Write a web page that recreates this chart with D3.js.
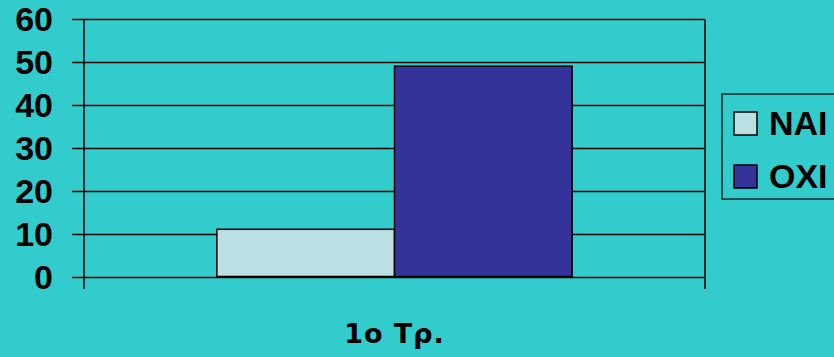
<!DOCTYPE html>
<html>
<head>
<meta charset="utf-8">
<script src="https://cdn.jsdelivr.net/npm/d3@7"></script>
<style>
  body { margin: 0; background: #33CCCC; }
  svg { display: block; }
</style>
</head>
<body>
<svg id="chart" width="834" height="357"></svg>
<script>
// data
var categories = ["1o Τρ."];
var series = ["NAI", "OXI"];
var values = [[11, 49]];
var colors = ["#BBE0E3", "#333399"];
var yTicks = [0, 10, 20, 30, 40, 50, 60];

var svg = d3.select("#chart");
var plot = {left: 84, right: 705, top: 19, bottom: 276.5};

var y = d3.scaleLinear()
    .domain([0, 60])
    .range([plot.bottom, plot.top]);

var x0 = d3.scaleBand()
    .domain(categories)
    .range([plot.left, plot.right])
    .paddingInner(0)
    .paddingOuter(0.374);

var x1 = d3.scaleBand()
    .domain(series)
    .range([0, x0.bandwidth()]);

// gridlines
svg.append("g")
  .selectAll("line")
  .data(yTicks)
  .enter().append("line")
  .attr("x1", plot.left - 12)
  .attr("x2", plot.right)
  .attr("y1", function(d) { return Math.round(y(d)) + 0.5; })
  .attr("y2", function(d) { return Math.round(y(d)) + 0.5; })
  .attr("stroke", "#000")
  .attr("stroke-width", 1.5);

// y tick labels
svg.append("g")
  .selectAll("text")
  .data(yTicks)
  .enter().append("text")
  .attr("x", 53)
  .attr("y", function(d) { return y(d); })
  .attr("dy", "0.36em")
  .attr("text-anchor", "end")
  .style("font-family", "'Liberation Sans', Arial, sans-serif")
  .style("font-weight", "bold")
  .style("font-size", "34px")
  .text(function(d) { return d; });

// bars
var groups = svg.append("g")
  .selectAll("g")
  .data(categories)
  .enter().append("g")
  .attr("transform", function(d) { return "translate(" + x0(d) + ",0)"; });

groups.selectAll("rect")
  .data(function(d, i) { return values[i].map(function(v, j) { return {s: series[j], v: v, c: colors[j]}; }); })
  .enter().append("rect")
  .attr("x", function(d) { return x1(d.s); })
  .attr("y", function(d) { return y(d.v); })
  .attr("width", x1.bandwidth())
  .attr("height", function(d) { return plot.bottom - y(d.v); })
  .attr("fill", function(d) { return d.c; })
  .attr("stroke", "#000")
  .attr("stroke-width", 1.5);

// axes frame
svg.append("line")
  .attr("x1", plot.left).attr("x2", plot.left)
  .attr("y1", plot.top).attr("y2", 289)
  .attr("stroke", "#000").attr("stroke-width", 1.5);
svg.append("line")
  .attr("x1", plot.right).attr("x2", plot.right)
  .attr("y1", plot.top).attr("y2", 289)
  .attr("stroke", "#0a2a2a").attr("stroke-width", 2);

// category label
svg.append("g")
  .selectAll("text")
  .data(categories)
  .enter().append("text")
  .attr("x", function(d) { return (plot.left + plot.right) / 2; })
  .attr("y", 343)
  .attr("text-anchor", "middle")
  .style("font-family", "'DejaVu Sans', Verdana, sans-serif")
  .style("font-weight", "bold")
  .style("font-size", "27px")
  .style("letter-spacing", "1px")
  .text(function(d) { return d; });

// legend
var legend = svg.append("g");
legend.append("rect")
  .attr("x", 722).attr("y", 94)
  .attr("width", 130).attr("height", 105)
  .attr("fill", "none")
  .attr("stroke", "#0a2a2a")
  .attr("stroke-width", 1.5);

var items = legend.selectAll("g.item")
  .data(series)
  .enter().append("g")
  .attr("class", "item")
  .attr("transform", function(d, i) { return "translate(734," + (112 + i * 53) + ")"; });

items.append("rect")
  .attr("width", 23).attr("height", 23)
  .attr("fill", function(d, i) { return colors[i]; })
  .attr("stroke", "#000")
  .attr("stroke-width", 1.5);

items.append("text")
  .attr("x", 35)
  .attr("y", 23)
  .style("font-family", "'Liberation Sans', Arial, sans-serif")
  .style("font-weight", "bold")
  .style("font-size", "34px")
  .text(function(d) { return d; });
</script>
</body>
</html>
